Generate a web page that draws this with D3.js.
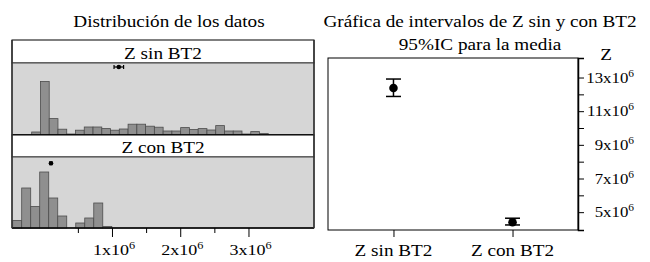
<!DOCTYPE html>
<html>
<head>
<meta charset="utf-8">
<script src="https://cdn.jsdelivr.net/npm/d3@7"></script>
<style>
  body { margin: 0; background: #fff; }
</style>
</head>
<body>
<div id="chart"></div>
<script>
/* global d3 */

// Histogram data (bar heights, percent of observations)
const zSinCounts = [1.5, 26.8, 8.2, 2.9, 0.5, 2.4, 4.0, 4.0, 3.2, 2.4, 3.0, 5.4, 5.4, 4.4,
                    3.9, 2.0, 2.0, 3.7, 2.7, 3.2, 2.5, 4.7, 2.0, 2.0, 0.5, 1.7, 0.7]
const zConCounts = [3.8, 20.0, 10.8, 28.0, 15.0, 6.0, 0, 2.5, 5.0, 12.5, 0.8]
const zSinBinStart = -0.1766e6, zSinBinWidth = 0.1284e6
const zConBinStart = -0.455e6, zConBinWidth = 0.132e6

// Mean markers on the histograms
const histMeans = [1.10e6, 0.106e6]
const histLow = [1.03e6, 0.09e6]
const histHigh = [1.17e6, 0.12e6]

const histTicks = [0.5e6, 1e6, 1.5e6, 2e6, 2.5e6, 3e6]
const histLabels = [1, 2, 3]

// Interval plot
const groups = ['Z sin BT2', 'Z con BT2']
const ciMeans = [12.375e6, 4.40e6]
const ciLow = [11.875e6, 4.24e6]
const ciHigh = [12.91e6, 4.64e6]
const zTicks = [5e6, 6e6, 7e6, 8e6, 9e6, 10e6, 11e6, 12e6, 13e6]
const zLabels = [5, 7, 9, 11, 13]

const width = 650, height = 262
const stretch = 1.2   // reference text is wider than it is tall
const serif = '"Liberation Serif", "Times New Roman", serif'

let svg = d3.select('#chart')
  .append('svg')
  .attr('width', width)
  .attr('height', height)

// text helper: horizontally stretched text with optional superscript
let label = (x, y, txt, size, anchor, sup) => {
  let t = svg.append('text')
    .attr('transform', `translate(${x},${y}) scale(${stretch},1)`)
    .attr('font-family', serif)
    .attr('font-size', size)
    .attr('fill', '#000')
    .attr('text-anchor', anchor)
  t.append('tspan').text(txt)
  if (sup) {
    t.append('tspan').attr('font-size', size * 0.68).attr('dy', -size * 0.42).text(sup)
  }
  return t
}

// ---------- Left: distribution ----------
const lx0 = 12, lx1 = 314
let xH = d3.scaleLinear().domain([-0.465e6, 3.96e6]).range([lx0, lx1])

label(169, 27, 'Distribución de los datos', 16, 'middle')

let panels = [
  { name: groups[0], head: 40, top: 63, bottom: 135, counts: zSinCounts, start: zSinBinStart, w: zSinBinWidth, mark: 34 },
  { name: groups[1], head: 135, top: 157, bottom: 228, counts: zConCounts, start: zConBinStart, w: zConBinWidth, mark: 32.4 }
]

panels.forEach((p, k) => {
  let yH = d3.scaleLinear().domain([0, 36]).range([p.bottom, p.bottom - 72])

  // header strip
  svg.append('rect')
    .attr('x', lx0).attr('y', p.head)
    .attr('width', lx1 - lx0).attr('height', p.top - p.head)
    .attr('fill', '#fff').attr('stroke', '#000')
  label((lx0 + lx1) / 2, p.top - 4, p.name, 16, 'middle')

  // panel background
  svg.append('rect')
    .attr('x', lx0).attr('y', p.top)
    .attr('width', lx1 - lx0).attr('height', p.bottom - p.top)
    .attr('fill', '#d6d6d6').attr('stroke', '#444')

  // bars
  let bars = p.counts.map((c, i) => ({ c, i })).filter(d => d.c > 0)
  svg.append('g').selectAll('rect')
    .data(bars)
    .enter()
    .append('rect')
    .attr('x', d => xH(p.start + d.i * p.w))
    .attr('width', d => xH(p.start + (d.i + 1) * p.w) - xH(p.start + d.i * p.w))
    .attr('y', d => yH(d.c))
    .attr('height', d => p.bottom - yH(d.c))
    .attr('fill', '#8f8f8f')
    .attr('stroke', '#4d4d4d')
    .attr('stroke-width', 0.8)

  // baseline
  svg.append('line')
    .attr('x1', lx0).attr('x2', lx1)
    .attr('y1', p.bottom).attr('y2', p.bottom)
    .attr('stroke', '#000').attr('stroke-width', 1.5)

  // mean marker with interval
  let my = yH(p.mark)
  let g = svg.append('g').attr('stroke', '#000').attr('stroke-width', 1.2)
  g.append('line')
    .attr('x1', xH(histLow[k])).attr('x2', xH(histHigh[k]))
    .attr('y1', my).attr('y2', my)
  ;[histLow[k], histHigh[k]].forEach(v => {
    g.append('line')
      .attr('x1', xH(v)).attr('x2', xH(v))
      .attr('y1', my - 2).attr('y2', my + 2)
  })
  svg.append('circle')
    .attr('cx', xH(histMeans[k])).attr('cy', my).attr('r', 2.3)
    .attr('fill', '#000')
})

// outer frame sides
;[lx0, lx1].forEach(x => {
  svg.append('line').attr('x1', x).attr('x2', x).attr('y1', 40).attr('y2', 228)
    .attr('stroke', '#333').attr('stroke-width', 1.5)
})

// bottom axis: minor and major ticks
let minorAxis = svg.append('g')
  .attr('transform', 'translate(0,228)')
  .call(d3.axisBottom(xH).tickValues(histTicks.filter(v => v % 1e6 !== 0)).tickSize(5).tickFormat(''))
let majorAxis = svg.append('g')
  .attr('transform', 'translate(0,228)')
  .call(d3.axisBottom(xH).tickValues(histTicks.filter(v => v % 1e6 === 0)).tickSize(9).tickFormat(''))
minorAxis.select('.domain').remove()
majorAxis.select('.domain').remove()
svg.selectAll('.tick line').attr('stroke', '#000')

histLabels.forEach(n => {
  label(xH(n * 1e6) + 2, 255, n + 'x10', 15, 'middle', '6')
})

// ---------- Right: interval plot ----------
const rx0 = 328, rx1 = 578, ry0 = 58, ry1 = 230
let xR = d3.scalePoint().domain(groups).range([rx0, rx1]).padding(0.55)
let yR = d3.scaleLinear().domain([3.94e6, 14.16e6]).range([ry1, ry0])

label(480, 27, 'Gráfica de intervalos de Z sin y con BT2', 16, 'middle')
label(480, 50, '95%IC para la media', 16, 'middle')

svg.append('rect')
  .attr('x', rx0).attr('y', ry0)
  .attr('width', rx1 - rx0).attr('height', ry1 - ry0)
  .attr('fill', '#fff').attr('stroke', '#000')

let yAxisR = svg.append('g')
  .attr('transform', `translate(${rx1},0)`)
  .call(d3.axisRight(yR).tickValues(zTicks).tickSize(6).tickFormat(''))
yAxisR.select('.domain').attr('stroke-width', 1.5)
yAxisR.selectAll('.tick line').attr('stroke', '#000')

zLabels.forEach(n => {
  label(634, yR(n * 1e6) + 5, n + 'x10', 14, 'end', '6')
})
label(606, 60, 'Z', 16, 'middle')

let xAxisR = svg.append('g')
  .attr('transform', `translate(0,${ry1})`)
  .call(d3.axisBottom(xR).tickSize(7).tickFormat(''))
xAxisR.select('.domain').remove()
xAxisR.selectAll('.tick line').attr('stroke', '#000')

groups.forEach(g => {
  label(xR(g), 256, g, 16, 'middle')
})

// error bars
groups.forEach((g, i) => {
  let cx = xR(g)
  let eb = svg.append('g').attr('stroke', '#000').attr('stroke-width', 1.5)
  eb.append('line').attr('x1', cx).attr('x2', cx).attr('y1', yR(ciLow[i])).attr('y2', yR(ciHigh[i]))
  ;[ciLow[i], ciHigh[i]].forEach(v => {
    eb.append('line').attr('x1', cx - 7.5).attr('x2', cx + 7.5).attr('y1', yR(v)).attr('y2', yR(v))
  })
  svg.append('circle')
    .attr('cx', cx).attr('cy', yR(ciMeans[i])).attr('r', 4.3)
    .attr('fill', '#000')
})
</script>
</body>
</html>
